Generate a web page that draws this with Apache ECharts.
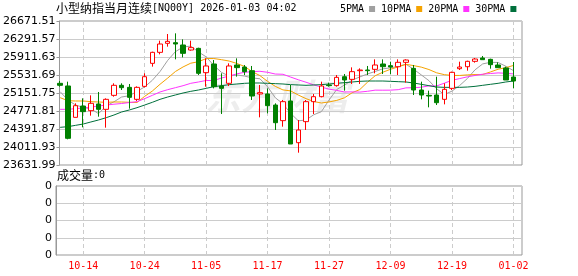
<!DOCTYPE html>
<html><head><meta charset="utf-8">
<script src="https://cdn.jsdelivr.net/npm/echarts@6/dist/echarts.min.js"></script>
<style>html,body{margin:0;padding:0;background:#fff}#c{width:578px;height:276px}</style>
</head><body><div id="c"></div>
<script>
const dates = ['10-09','10-10','10-13','10-14','10-15','10-16','10-17','10-20','10-21','10-22','10-23','10-24','10-27','10-28','10-29','10-30','10-31','11-03','11-04','11-05','11-06','11-07','11-10','11-11','11-12','11-13','11-14','11-17','11-18','11-19','11-20','11-21','11-24','11-25','11-26','11-27','11-28','12-01','12-02','12-03','12-04','12-05','12-08','12-09','12-10','12-11','12-12','12-15','12-16','12-17','12-18','12-19','12-22','12-23','12-24','12-26','12-29','12-30','12-31','01-02'];
const labelDates = ['10-14','10-24','11-05','11-17','11-27','12-09','12-19','01-02'];
const opens = [25356,25300,24638,24877,24779,24920,24807,25102,25314,25271,25018,25292,25778,26010,26200,26214,26165,26059,26094,25581,25764,25299,25356,25743,25700,25623,25131,25131,24898,24568,24983,24103,24547,24969,25074,25321,25307,25496,25440,25623,25637,25651,25764,25729,25707,25799,25672,25215,25102,25109,25018,25250,25665,25707,25820,25890,25862,25743,25679,25489];
const closes = [25314,24195,24884,24758,24934,24807,25018,25314,25264,25060,25271,25496,26010,26186,26242,26186,25989,26109,25567,25722,25285,25250,25722,25687,25602,25088,25159,24884,24525,24969,24075,24371,24969,25074,25299,25307,25482,25426,25602,25637,25623,25743,25707,25700,25799,25848,25215,25109,25088,24947,25229,25588,25700,25820,25869,25855,25750,25686,25426,25405];
const lows = [25285,24174,24638,24427,24673,24652,24420,25074,25215,24821,24983,25271,25708,25968,26130,25862,25904,26045,25532,25285,25250,24708,25299,25497,25532,25004,24638,24722,24371,24441,24075,23892,24371,24708,25060,25285,25285,25201,25342,25342,25532,25567,25553,25546,25532,25370,25109,25018,24849,24898,24912,25215,25637,25623,25792,25855,25665,25686,25426,25250];
const highs = [25405,25391,24934,25039,25102,25173,25039,25356,25356,25342,25292,25567,26024,26256,26397,26411,26284,26256,26108,25883,25848,25567,25778,25883,25743,25722,25321,25250,24934,25004,25321,24582,25004,25131,25391,25370,25532,25553,25693,25672,25722,25862,25862,25813,25862,25862,25743,25391,25201,25496,25356,25602,25813,25834,25890,25933,25876,25799,25707,25806];
const ma5 = [25180,25004,24898,24849,24817,24716,24880,24966,25067,25093,25185,25281,25420,25605,25841,26024,26123,26142,26019,25915,25734,25587,25509,25533,25509,25470,25452,25284,25052,24925,24722,24565,24582,24692,24758,25004,25226,25318,25423,25491,25554,25606,25662,25682,25714,25759,25654,25534,25412,25241,25118,25192,25310,25457,25641,25766,25799,25796,25717,25624];
const ma10 = [25053,24990,24983,24983,24969,24962,24955,24962,24962,24955,24951,25081,25193,25336,25467,25605,25702,25781,25812,25878,25879,25855,25826,25776,25712,25602,25519,25397,25292,25217,25196,25108,25033,24972,24941,24963,24996,25050,25157,25224,25379,25516,25590,25653,25703,25757,25730,25698,25647,25578,25539,25523,25522,25534,25541,25542,25596,25653,25687,25733];
const ma20 = [24807,24807,24821,24835,24855,24877,24898,24915,24930,24950,24969,25032,25102,25173,25222,25264,25306,25356,25384,25416,25415,25468,25510,25556,25589,25603,25610,25589,25552,25547,25488,25431,25379,25324,25277,25233,25207,25173,25175,25171,25188,25212,25211,25212,25222,25260,25263,25274,25302,25301,25359,25420,25456,25493,25522,25549,25563,25576,25567,25555];
const ma30 = [24427,24441,24469,24497,24540,24582,24631,24687,24751,24793,24842,24898,24955,25018,25067,25110,25152,25187,25215,25250,25285,25306,25328,25342,25356,25363,25363,25356,25349,25342,25328,25321,25314,25321,25328,25342,25356,25370,25384,25398,25405,25405,25405,25398,25391,25384,25363,25335,25306,25278,25271,25271,25271,25278,25292,25314,25335,25356,25384,25405];
const volumes = [0,0,0,0,0,0,0,0,0,0,0,0,0,0,0,0,0,0,0,0,0,0,0,0,0,0,0,0,0,0,0,0,0,0,0,0,0,0,0,0,0,0,0,0,0,0,0,0,0,0,0,0,0,0,0,0,0,0,0,0];
const priceMin = 23631.99, priceMax = 26671.51, priceStep = 379.94;
const volTickLabels = ['0','0','0','0','0'];
const maNames = ['5PMA','10PMA','20PMA','30PMA'];
const maColors = ['#a0a0a0','#f5a300','#ff33ff','#00703c'];

const candleData = opens.map((o, i) => [o, closes[i], lows[i], highs[i]]);
const isLabel = (i) => labelDates.indexOf(dates[i]) >= 0;
const MONO = 'DejaVu Sans Mono';
const CJK = 'Noto Sans CJK SC';

const vLineStyle = {color: '#cccccc', type: [4, 3], width: 1};

const chart = echarts.init(document.getElementById('c'), null, {renderer: 'canvas'});
const frameL = 56, frameW = 466, plotL = 56.3, plotW = 461;
const mainTop = 21, mainH = 144, volTop = 186, volH = 69;

const option = {
  animation: false,
  backgroundColor: '#fff',
  title: [
    {left: 56, top: 2, padding: 0, text: '{c|小型纳指当月连续}{a|[NQ00Y] 2026-01-03 04:02}',
     textStyle: {fontWeight: 'normal', rich: {c: {fontFamily: CJK, fontSize: 12, fontWeight: 'normal', color: '#000'}, a: {fontFamily: MONO, fontSize: 10, fontWeight: 'normal', color: '#000'}}}},
    {left: 57, top: 169, padding: 0, text: '{c|成交量}{a|:0}',
     textStyle: {fontWeight: 'normal', rich: {c: {fontFamily: CJK, fontSize: 12, fontWeight: 'normal', color: '#000'}, a: {fontFamily: MONO, fontSize: 10, fontWeight: 'normal', color: '#000'}}}}
  ],
  legend: {left: 340, top: 4, padding: 0, itemWidth: 6, itemHeight: 6, itemGap: 6, align: 'right', icon: 'rect',
    selectedMode: false, data: maNames, textStyle: {fontFamily: MONO, fontSize: 10, color: '#000'}},
  graphic: [{type: 'text', left: 205, top: 78, z: -1, silent: true,
    style: {text: '东方财富', fontSize: 36, fontStyle: 'italic', fontWeight: 'bold', fontFamily: CJK, fill: 'rgba(0,0,0,0.07)'}}],
  grid: [
    {left: frameL, top: mainTop, width: frameW, height: mainH, show: true, borderColor: '#999', borderWidth: 1},
    {left: plotL, top: mainTop, width: plotW, height: mainH},
    {left: frameL, top: volTop, width: frameW, height: volH, show: true, borderColor: '#999', borderWidth: 1},
    {left: plotL, top: volTop, width: plotW, height: volH}
  ],
  xAxis: [
    {gridIndex: 0, type: 'value', min: 0, max: 1, show: false},
    {gridIndex: 1, type: 'category', data: dates, boundaryGap: true, position: 'bottom',
     axisLine: {show: true, lineStyle: {color: 'rgba(0,0,0,0)'}},
     axisTick: {show: true, alignWithLabel: true, interval: (i) => isLabel(i), length: -mainH, lineStyle: vLineStyle},
     axisLabel: {show: false}, splitLine: {show: false}},
    {gridIndex: 2, type: 'value', min: 0, max: 1, show: false},
    {gridIndex: 3, type: 'category', data: dates, boundaryGap: true, position: 'bottom',
     axisLine: {show: true, lineStyle: {color: 'rgba(0,0,0,0)'}}, splitLine: {show: false},
     axisTick: {show: true, alignWithLabel: true, interval: (i) => isLabel(i), length: -volH, lineStyle: vLineStyle},
     axisLabel: {show: true, interval: (i) => isLabel(i), color: '#ff0000', fontFamily: MONO, fontSize: 10, margin: 6}}
  ],
  yAxis: [
    {gridIndex: 0, type: 'value', min: priceMin, max: priceMax, interval: priceStep,
     axisLine: {show: true, lineStyle: {color: '#999'}},
     axisTick: {show: true, inside: false, length: 3, lineStyle: {color: '#999'}},
     axisLabel: {margin: 4, color: '#000', fontFamily: 'DejaVu Sans', fontSize: 11, formatter: (v) => v.toFixed(2)},
     splitLine: {show: true, lineStyle: {color: '#cccccc', width: 1}}},
    {gridIndex: 1, type: 'value', min: priceMin, max: priceMax, show: false, splitLine: {show: false}},
    {gridIndex: 2, type: 'value', min: 0, max: 4, interval: 1,
     axisLine: {show: true, lineStyle: {color: '#999'}},
     axisTick: {show: false},
     axisLabel: {margin: 4, color: '#000', fontFamily: 'DejaVu Sans', fontSize: 11, formatter: (v) => volTickLabels[Math.round(v)]},
     splitLine: {show: true, lineStyle: {color: '#cccccc', width: 1}}},
    {gridIndex: 3, type: 'value', min: 0, max: 4, show: false, splitLine: {show: false}}
  ],
  series: [
    {type: 'candlestick', name: 'K', xAxisIndex: 1, yAxisIndex: 1, data: candleData, barWidth: 5, z: 5,
     itemStyle: {color: '#ffffff', color0: '#008000', borderColor: '#ff0000', borderColor0: '#008000', borderWidth: 1}},
    ...[ma5, ma10, ma20, ma30].map((d, k) => ({
      type: 'line', name: maNames[k], xAxisIndex: 1, yAxisIndex: 1, data: d, symbol: 'none', z: 3,
      color: maColors[k], itemStyle: {color: maColors[k]}, lineStyle: {color: maColors[k], width: 1}
    })),
    {type: 'bar', name: 'vol', xAxisIndex: 3, yAxisIndex: 3, data: volumes, barWidth: 5, z: 1, itemStyle: {color: '#008000'}}
  ]
};
chart.setOption(option);
</script></body></html>
